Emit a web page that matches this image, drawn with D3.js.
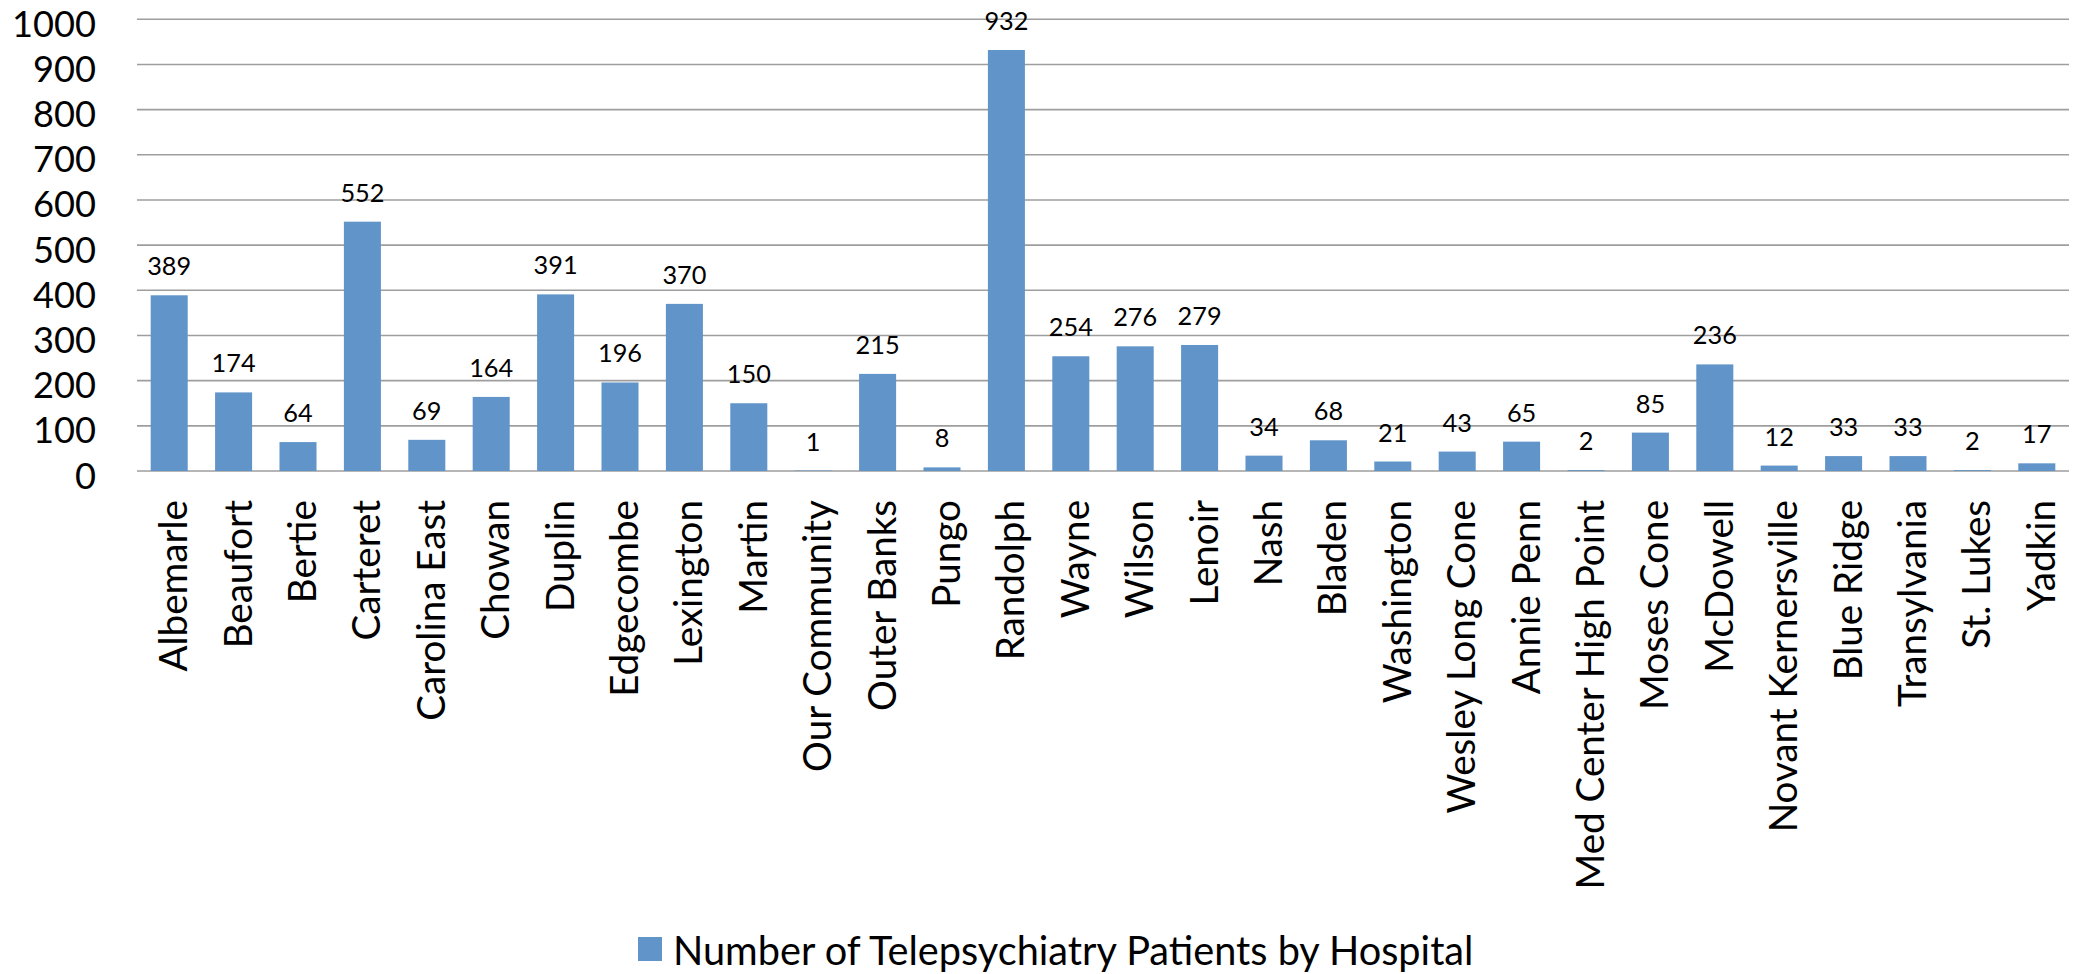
<!DOCTYPE html>
<html><head><meta charset="utf-8">
<script src="https://cdn.jsdelivr.net/npm/d3@7"></script>
<style>
html,body{margin:0;padding:0;background:#fff;}
svg{display:block;font-family:Lato,"Open Sans",sans-serif;}
</style></head>
<body>
<svg id="chart" width="2080" height="974"></svg>
<script>
const categories = ["Albemarle","Beaufort","Bertie","Carteret","Carolina East","Chowan","Duplin","Edgecombe","Lexington","Martin","Our Community","Outer Banks","Pungo","Randolph","Wayne","Wilson","Lenoir","Nash","Bladen","Washington","Wesley Long Cone","Annie Penn","Med Center High Point","Moses Cone","McDowell","Novant Kernersville","Blue Ridge","Transylvania","St. Lukes","Yadkin"];
const patients = [389,174,64,552,69,164,391,196,370,150,1,215,8,932,254,276,279,34,68,21,43,65,2,85,236,12,33,33,2,17];
const yTicks = [0,100,200,300,400,500,600,700,800,900,1000];
const seriesName = "Number of Telepsychiatry Patients by Hospital";

(function () {
const svg = d3.select("#chart");
const pLeft = 137, pRight = 2069, pTop = 19.3, pBottom = 471;
const barColor = "#6195C9";

const x = d3.scaleBand().domain(categories).range([pLeft, pRight]).paddingInner(0.425).paddingOuter(0.2125);
const y = d3.scaleLinear().domain([0, 1000]).range([pBottom, pTop]);

// gridlines
svg.append("g").selectAll("line").data(yTicks).join("line")
  .attr("x1", pLeft).attr("x2", pRight)
  .attr("y1", d => y(d)).attr("y2", d => y(d))
  .attr("stroke", "#9e9e9e").attr("stroke-width", 1.6);

// y axis labels
const yAxis = d3.axisLeft(y).tickValues(yTicks).tickFormat(d3.format("d")).tickSize(0).tickPadding(0);
const gy = svg.append("g").attr("transform", "translate(96,0)").call(yAxis);
gy.select(".domain").remove();
gy.selectAll("text").attr("font-family", "Lato").attr("font-size", 36.2).attr("fill", "#000")
  .attr("dy", null).attr("dominant-baseline", "alphabetic").attr("y", 17).attr("x", 0);

// bars
svg.append("g").selectAll("rect").data(categories).join("rect")
  .attr("x", d => x(d)).attr("width", x.bandwidth())
  .attr("y", (d, i) => y(patients[i])).attr("height", (d, i) => y(0) - y(patients[i]))
  .attr("fill", barColor);

// value labels
svg.append("g").selectAll("text").data(categories).join("text")
  .attr("x", d => x(d) + x.bandwidth() / 2)
  .attr("y", (d, i) => y(patients[i]) - 20)
  .attr("text-anchor", "middle").attr("font-size", 25.3).attr("fill", "#000")
  .text((d, i) => patients[i]);

// x axis labels
const xAxis = d3.axisBottom(x).tickSize(0);
const gx = svg.append("g").attr("transform", `translate(0,${pBottom})`).call(xAxis);
gx.select(".domain").remove();
gx.selectAll(".tick text")
  .attr("font-family", "Lato").attr("font-size", 38.6).attr("fill", "#000")
  .attr("dy", null).attr("y", null)
  .attr("text-anchor", "end")
  .attr("transform", "translate(18,29) rotate(-90)");

// legend
const lg = svg.append("g");
lg.append("rect").attr("x", 638).attr("y", 937).attr("width", 24).attr("height", 24).attr("fill", barColor);
lg.append("text").attr("x", 673).attr("y", 965).attr("font-size", 39.7).attr("fill", "#000").text(seriesName);
})();
</script>
</body></html>
